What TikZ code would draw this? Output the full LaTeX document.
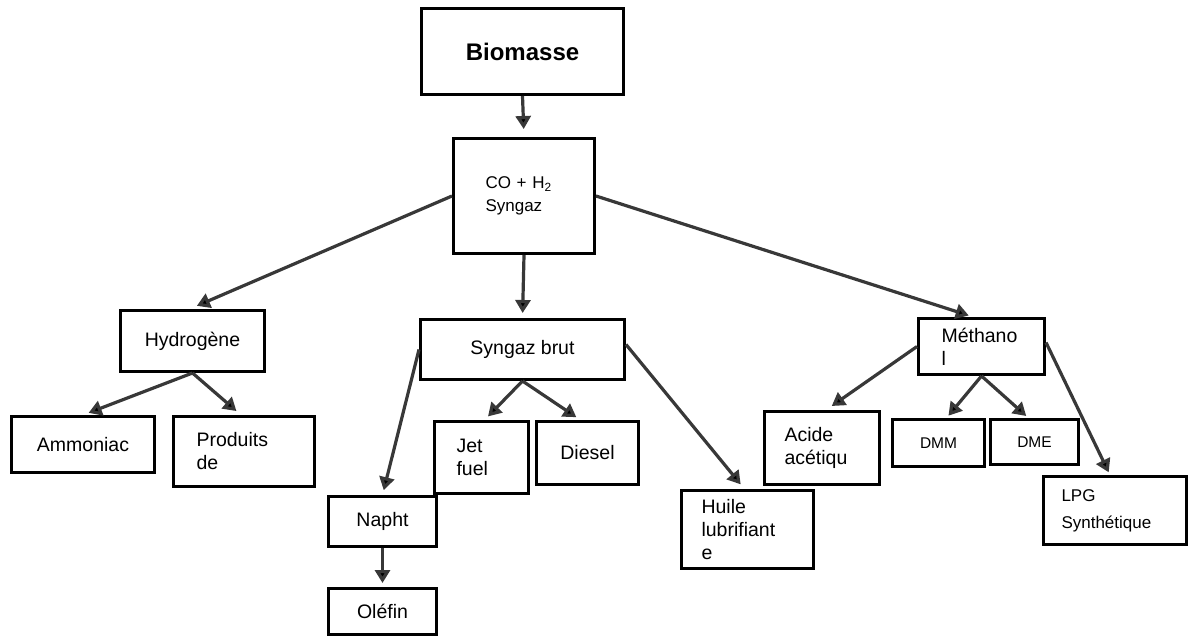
\documentclass[tikz,border=0pt]{standalone}
\usepackage{fontspec}
\setmainfont{Liberation Sans}
\usetikzlibrary{arrows.meta,shadows}

\tikzset{
  box/.style={draw=black, line width=3pt, fill=white, anchor=north west,
    inner ysep=0pt, font=\fontsize{19.5}{23}\selectfont,
    drop shadow={shadow xshift=1.8pt, shadow yshift=-1.8pt, fill=black, opacity=1}},
  cbox/.style={box, align=center},
  lbox/.style={box, align=left},
  arr/.style={line width=3.2pt, draw=black!78,
    -{Triangle[width=15pt,length=13pt,fill=black]}},
}

\begin{document}
\begin{tikzpicture}[x=1pt,y=-1pt]
\useasboundingbox (0,0) rectangle (1190,636);

% boxes
\node[cbox, minimum width=202pt, minimum height=86pt,
      font=\fontsize{24}{28}\selectfont\bfseries] (bio) at (420,7) {Biomasse};
\node[lbox, text width=77pt, inner xsep=32pt, minimum height=115pt,
      font=\fontsize{17}{23}\selectfont] (co) at (452,137) {CO + H\textsubscript{2}\\Syngaz};

\node[cbox, minimum width=144pt, minimum height=61pt] (hyd) at (119,309) {Hydrogène};
\node[cbox, minimum width=143pt, minimum height=56pt] (amm) at (10,415) {Ammoniac};
\node[lbox, text width=95pt, inner xsep=23pt, minimum height=70pt] (prod) at (172,415) {Produits\\de};

\node[cbox, minimum width=204pt, minimum height=60pt] (sb) at (419,318) {Syngaz brut};
\node[lbox, text width=50pt, inner xsep=22pt, minimum height=72pt] (jet) at (433,420) {Jet\\fuel};
\node[cbox, minimum width=102pt, minimum height=63pt] (diesel) at (535,420) {Diesel};
\node[cbox, minimum width=108pt, minimum height=50pt] (napht) at (327,495) {Napht};
\node[cbox, minimum width=108pt, minimum height=46pt] (olef) at (327,587) {Oléfin};
\node[lbox, text width=92pt, inner xsep=20pt, minimum height=78pt] (huile) at (680,489) {Huile\\lubrifiant\\e};

\node[lbox, text width=80pt, inner xsep=23pt, minimum height=56pt] (meth) at (917,317) {Méthano\\l};
\node[lbox, text width=75pt, inner xsep=20pt, minimum height=73pt] (acide) at (763,410) {Acide\\acétiqu};
\node[cbox, minimum width=92pt, minimum height=47pt,
      font=\fontsize{15.5}{18}\selectfont] (dmm) at (891,418) {DMM};
\node[cbox, minimum width=88pt, minimum height=45pt,
      font=\fontsize{15.5}{18}\selectfont] (dme) at (989,418) {DME};
\node[lbox, text width=107pt, inner xsep=18pt, minimum height=68pt,
      font=\fontsize{17}{27}\selectfont] (lpg) at (1042,475) {LPG\\Synthétique};

% connectors
\draw[arr, shorten >=8pt] (bio.south) -- (co.north);
\draw[arr, shorten >=5pt] (co.south) -- (sb.north);
\draw[arr, shorten >=8pt] (co.west) -- ([xshift=-3pt]hyd.north);
\draw[arr, shorten >=5pt] (co.east) -- ([xshift=-8pt]meth.north);

\draw[arr, shorten >=6pt] (hyd.south) -- (amm.north);
\draw[arr, shorten >=6pt] (hyd.south) -- ([xshift=-3pt]prod.north);

\draw[arr, shorten >=5pt] (sb.west) -- (napht.north);
\draw[arr, shorten >=5pt] (sb.south) -- ([xshift=3pt]jet.north);
\draw[arr, shorten >=5pt] (sb.south) -- ([xshift=-7pt]diesel.north);
\draw[arr, shorten >=6pt] ([yshift=5pt]sb.east) -- ([xshift=-3pt]huile.north);
\draw[arr, shorten >=4pt] (napht.south) -- (olef.north);

\draw[arr, shorten >=7pt] (meth.west) -- ([xshift=4pt]acide.north);
\draw[arr, shorten >=3pt] (meth.south) -- ([xshift=8pt]dmm.north);
\draw[arr, shorten >=3pt] (meth.south) -- ([xshift=-6pt]dme.north);
\draw[arr, shorten >=3pt] ([yshift=4pt]meth.east) -- ([xshift=-5pt]lpg.north);
\end{tikzpicture}
\end{document}
